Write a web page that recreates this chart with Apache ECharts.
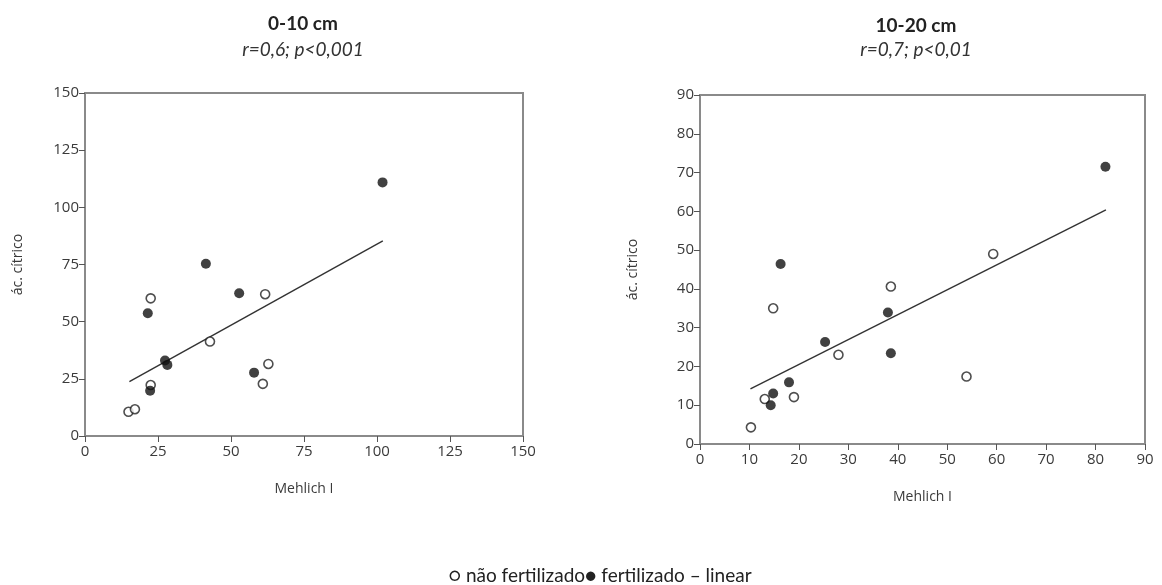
<!DOCTYPE html>
<html>
<head>
<meta charset="utf-8">
<script src="https://cdn.jsdelivr.net/npm/echarts@6/dist/echarts.min.js"></script>
<style>
  html, body { margin: 0; padding: 0; background: #fff; }
  #chart { width: 1162px; height: 585px; }
</style>
</head>
<body>
<div id="chart"></div>
<script>
// 0-10 cm
const openLeft = [[14.9, 10.6], [17.1, 11.7], [22.5, 60.2], [22.5, 22.3], [42.8, 41.3], [61.7, 62.0], [62.8, 31.5], [60.9, 22.8]];
const filledLeft = [[21.5, 53.7], [22.3, 19.8], [27.4, 33.0], [28.2, 31.1], [41.4, 75.3], [52.8, 62.4], [57.9, 27.7], [101.9, 110.9]];
const fitLeft = [[15.2, 23.8], [102.0, 85.3]];

// 10-20 cm
const openRight = [[10.3, 4.3], [13.1, 11.6], [14.8, 35.0], [19.0, 12.1], [28.0, 23.0], [38.6, 40.6], [59.3, 49.0], [53.9, 17.4]];
const filledRight = [[16.3, 46.4], [14.3, 10.0], [14.8, 13.0], [18.0, 15.9], [25.3, 26.3], [38.0, 33.9], [38.6, 23.4], [82.0, 71.5]];
const fitRight = [[10.2, 14.2], [82.1, 60.4]];

const titles = ['0-10 cm', '10-20 cm'];
const subtitles = ['r=0,6; p<0,001', 'r=0,7; p<0,01'];
const legendText = '○ não fertilizado● fertilizado – linear';

const axisGray = '#8a8a8a';
const textGray = '#3a3a3a';
const tickFont = 'Open Sans';

function xAxisCfg(idx, max, interval) {
  return {
    type: 'value', gridIndex: idx, min: 0, max: max, interval: interval,
    name: 'Mehlich I', nameLocation: 'middle', nameGap: 46,
    nameTextStyle: { color: textGray, fontFamily: tickFont, fontSize: 14 },
    axisLine: { show: true, lineStyle: { color: axisGray, width: 2 } },
    axisTick: { show: true, length: 6, lineStyle: { color: '#555', width: 1 } },
    axisLabel: { color: textGray, fontFamily: tickFont, fontSize: 15, margin: 8 },
    splitLine: { show: false }
  };
}
function yAxisCfg(idx, max, interval) {
  return {
    type: 'value', gridIndex: idx, min: 0, max: max, interval: interval,
    name: 'ác. cítrico', nameLocation: 'middle', nameGap: 60,
    nameTextStyle: { color: textGray, fontFamily: tickFont, fontSize: 14 },
    axisLine: { show: true, lineStyle: { color: axisGray, width: 2 } },
    axisTick: { show: true, length: 6, lineStyle: { color: '#555', width: 1 } },
    axisLabel: { color: textGray, fontFamily: tickFont, fontSize: 15, margin: 6 },
    splitLine: { show: false }
  };
}
function openSeries(idx, data) {
  return {
    type: 'scatter', xAxisIndex: idx, yAxisIndex: idx, data: data,
    symbol: 'circle', symbolSize: 9,
    itemStyle: { color: '#fff', borderColor: '#222', borderWidth: 1.6 }
  };
}
function filledSeries(idx, data) {
  return {
    type: 'scatter', xAxisIndex: idx, yAxisIndex: idx, data: data,
    symbol: 'circle', symbolSize: 10,
    itemStyle: { color: '#111', borderColor: '#111', borderWidth: 0 }
  };
}
function fitSeries(idx, data) {
  return {
    type: 'line', xAxisIndex: idx, yAxisIndex: idx, data: data,
    symbol: 'none', z: 1,
    lineStyle: { color: '#333', width: 1.4 }
  };
}

const chart = echarts.init(document.getElementById('chart'));
chart.setOption({
  animation: false,
  backgroundColor: '#fff',
  title: [
    { text: titles[0], left: 298, top: 9, textAlign: 'center',
      textStyle: { fontFamily: 'Lato', fontWeight: 'bold', fontSize: 19, color: '#222' } },
    { text: subtitles[0], left: 298, top: 35, textAlign: 'center',
      textStyle: { fontFamily: 'Lato', fontStyle: 'italic', fontWeight: 'normal', fontSize: 19, color: '#333' } },
    { text: titles[1], left: 911, top: 11, textAlign: 'center',
      textStyle: { fontFamily: 'Lato', fontWeight: 'bold', fontSize: 19, color: '#222' } },
    { text: subtitles[1], left: 911, top: 35, textAlign: 'center',
      textStyle: { fontFamily: 'Lato', fontStyle: 'italic', fontWeight: 'normal', fontSize: 19, color: '#333' } },
    { text: legendText, left: 595, top: 561, textAlign: 'center',
      textStyle: { fontFamily: 'Lato', fontWeight: 'normal', fontSize: 19, color: '#222' } }
  ],
  grid: [
    { left: 85, top: 93, width: 438, height: 343, show: true, borderColor: axisGray, borderWidth: 2, backgroundColor: 'transparent' },
    { left: 700, top: 95, width: 445, height: 349, show: true, borderColor: axisGray, borderWidth: 2, backgroundColor: 'transparent' }
  ],
  xAxis: [xAxisCfg(0, 150, 25), xAxisCfg(1, 90, 10)],
  yAxis: [yAxisCfg(0, 150, 25), yAxisCfg(1, 90, 10)],
  series: [
    fitSeries(0, fitLeft), openSeries(0, openLeft), filledSeries(0, filledLeft),
    fitSeries(1, fitRight), openSeries(1, openRight), filledSeries(1, filledRight)
  ]
});
</script>
</body>
</html>
